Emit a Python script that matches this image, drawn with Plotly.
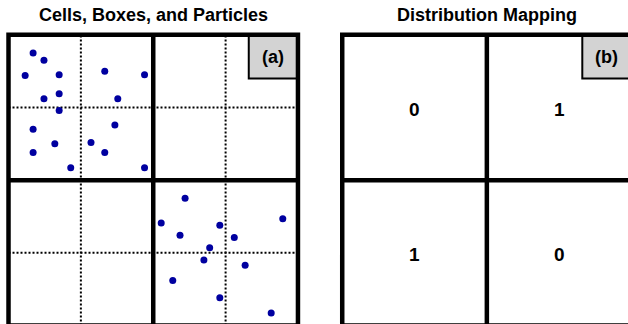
import plotly.graph_objects as go

# ---------------- data ----------------
titles = ["Cells, Boxes, and Particles", "Distribution Mapping"]
panel_labels = ["(a)", "(b)"]
box_edges = [0, 2, 4]          # thick lines (box boundaries)
cell_edges = [1, 3]            # dotted lines (cell boundaries)
box_centers = [1, 3]
# distribution mapping, rows listed from top to bottom
mapping_rows_top_to_bottom = [[0, 1], [1, 0]]

particle_x = [0.34, 0.49, 0.23, 0.70, 1.33, 1.88, 0.49, 0.70, 1.51, 0.70,
              0.34, 1.47, 0.64, 1.14, 0.34, 1.33, 0.86, 1.88,
              2.44, 2.11, 3.79, 2.92, 2.37, 3.12, 2.78, 2.70, 3.27, 2.27, 2.92, 3.63]
particle_y = [3.75, 3.65, 3.44, 3.45, 3.50, 3.45, 3.12, 3.19, 3.12, 2.96,
              2.70, 2.76, 2.50, 2.52, 2.38, 2.38, 2.17, 2.17,
              1.75, 1.41, 1.47, 1.38, 1.24, 1.21, 1.07, 0.90, 0.83, 0.62, 0.38, 0.17]

# ---------------- figure ----------------
W, H = 628, 324
FONT = "Arial, Liberation Sans, sans-serif"
fig = go.Figure()

fig.add_trace(go.Scatter(
    x=particle_x, y=particle_y, mode="markers",
    marker=dict(size=7, color="#0000A0", line=dict(width=0)),
    xaxis="x", yaxis="y", showlegend=False, hoverinfo="skip"))

shapes = []
annotations = []
axes = [("x", "y"), ("x2", "y2")]
lo, hi = box_edges[0], box_edges[-1]
dot_line = dict(color="black", width=2, dash="2px,2px")
thick = dict(color="black", width=4.5)

for k, (xr, yr) in enumerate(axes):
    if k == 0:
        for c in cell_edges:
            shapes.append(dict(type="line", xref=xr, yref=yr, x0=c, x1=c, y0=lo, y1=hi,
                               line=dot_line, layer="below"))
            shapes.append(dict(type="line", xref=xr, yref=yr, x0=lo, x1=hi, y0=c, y1=c,
                               line=dot_line, layer="below"))
    # label box
    shapes.append(dict(type="rect", xref=xr, yref=yr, x0=3.32, x1=hi, y0=3.40, y1=hi,
                       fillcolor="#D3D3D3", line=dict(color="black", width=2), layer="above"))
    annotations.append(dict(xref=xr, yref=yr, x=3.66, y=3.70, text="<b>%s</b>" % panel_labels[k],
                            showarrow=False, font=dict(family=FONT, size=18, color="black")))
    # thick box lines
    for b in box_edges[1:-1]:
        shapes.append(dict(type="line", xref=xr, yref=yr, x0=b, x1=b, y0=lo, y1=hi,
                           line=thick, layer="above"))
        shapes.append(dict(type="line", xref=xr, yref=yr, x0=lo, x1=hi, y0=b, y1=b,
                           line=thick, layer="above"))
    shapes.append(dict(type="rect", xref=xr, yref=yr, x0=lo, x1=hi, y0=lo, y1=hi,
                       line=thick, layer="above"))

# mapping numbers
for r, row in enumerate(mapping_rows_top_to_bottom):
    for c, val in enumerate(row):
        annotations.append(dict(xref="x2", yref="y2", x=box_centers[c],
                                y=box_centers[len(box_centers) - 1 - r],
                                text="<b>%d</b>" % val, showarrow=False, yshift=-2,
                                font=dict(family=FONT, size=19, color="black")))

# titles
title_x = [153.3 / W, 486.7 / W]
for k, t in enumerate(titles):
    annotations.append(dict(xref="paper", yref="paper", x=title_x[k], y=1 - 15 / H,
                            xanchor="center", yanchor="middle", text="<b>%s</b>" % t,
                            showarrow=False,
                            font=dict(family=FONT, size=18, color="black")))

axis_common = dict(visible=False, showgrid=False, zeroline=False, fixedrange=True)
ydom = [0, (H - 27.6) / H]
yrange = [0.02, 4.1]
fig.update_layout(
    width=W, height=H,
    margin=dict(l=0, r=0, t=0, b=0),
    paper_bgcolor="white", plot_bgcolor="white",
    showlegend=False,
    hovermode=False,
    xaxis=dict(domain=[1.27 / W, 305.2 / W], range=[-0.1, 4.1], **axis_common),
    yaxis=dict(domain=ydom, range=yrange, **axis_common),
    xaxis2=dict(domain=[335.0 / W, 1.0], range=[-0.1, 3.952], anchor="y2", **axis_common),
    yaxis2=dict(domain=ydom, range=yrange, anchor="x2", **axis_common),
    shapes=shapes,
    annotations=annotations,
)

# remove the browser's default 8px page margin so the figure fills the window
fig.write_html("out.html", config={"displayModeBar": False},
               post_script="document.body.style.margin='0px';")
